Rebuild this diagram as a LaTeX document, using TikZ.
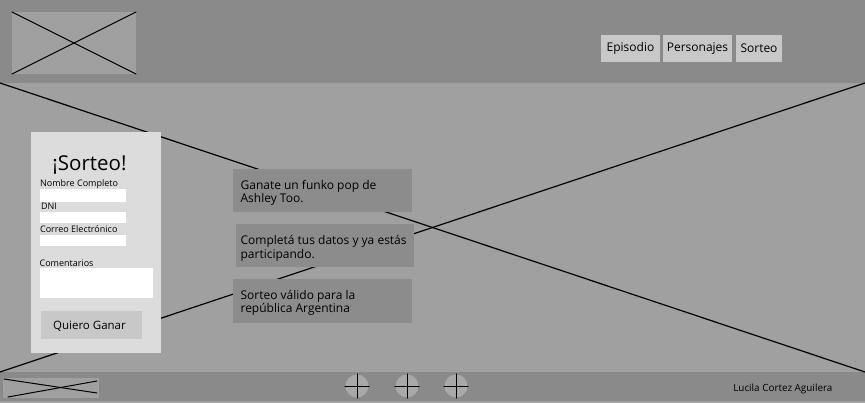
\documentclass[tikz,border=0pt]{standalone}
\usepackage{fontspec}
\setmainfont{Open Sans}

\definecolor{barra}{HTML}{8A8A8A}
\definecolor{fondo}{HTML}{A0A0A0}
\definecolor{panel}{HTML}{DCDCDC}
\definecolor{boton}{HTML}{C8C8C8}
\definecolor{aviso}{HTML}{8C8C8C}
\definecolor{circulo}{HTML}{A8A8A8}

\begin{document}
\begin{tikzpicture}[x=1pt,y=-1pt,line width=1.2pt,line cap=round,
        texto/.style={inner sep=0pt,anchor=base west,align=left,
            font=\fontsize{12}{13.5}\selectfont},
        etiqueta/.style={inner sep=0pt,anchor=base west,
            font=\fontsize{9}{10}\selectfont},
        menu/.style={fill=boton,inner sep=0pt,minimum height=27pt,
            font=\fontsize{12}{14}\selectfont}]

        \useasboundingbox (0,0) rectangle (865,403);

        % Background, header and footer.
        \fill[fondo] (0,0) rectangle (865,403);
        \fill[barra] (0,0) rectangle (865,83);
        \fill[barra] (0,372) rectangle (865,401);

        % Positions of all of the corners.
        \coordinate (a) at (0,83);
        \coordinate (b) at (865,372);
        \coordinate (c) at (0,372);
        \coordinate (d) at (865,83);
        \coordinate (e) at (12,12);
        \coordinate (f) at (136,74);
        \coordinate (g) at (12,74);
        \coordinate (h) at (136,12);
        \coordinate (i) at (4,379);
        \coordinate (j) at (97,393);
        \coordinate (k) at (8,397);
        \coordinate (l) at (97,381);

        % Big cross of the main picture.
        \draw (a) -- (b);
        \draw (c) -- (d);

        % Logo of the header.
        \fill[fondo] (e) rectangle (f);
        \draw[line width=1pt] (e) -- (f);
        \draw[line width=1pt] (g) -- (h);

        % Menu.
        \node[menu, minimum width=59pt] (episodio) at (630.5,48.5) {Episodio};
        \node[menu, minimum width=69pt] (personajes) at (697.5,48.5) {Personajes};
        \node[menu, minimum width=46pt] (sorteo) at (759,48.5) {Sorteo};

        % Form.
        \fill[panel] (31,132) rectangle (161,353);
        \node[inner sep=0pt, anchor=base, font=\fontsize{20.5}{22}\selectfont]
            (titulo) at (89.5,170.7) {¡Sorteo!};
        \node[etiqueta] (nombre) at (39.5,186.5) {Nombre Completo};
        \fill[white] (40,189) rectangle (126,202);
        \node[etiqueta] (dni) at (40.5,209.3) {DNI};
        \fill[white] (40,212) rectangle (126,223);
        \node[etiqueta] (correo) at (39.5,232.7) {Correo Electrónico};
        \fill[white] (40,235) rectangle (126,246);
        \node[etiqueta] (comentarios) at (39,266.7) {Comentarios};
        \fill[white] (40,268) rectangle (153,298);
        \fill[boton] (41,311) rectangle (142,339);
        \node[inner sep=0pt, anchor=base, font=\fontsize{11.5}{13}\selectfont]
            (ganar) at (89.5,329.5) {Quiero Ganar};

        % The three notices.
        \fill[aviso] (233,169) rectangle (412,212);
        \node[texto] (funko) at (240,202.7)
            {Ganate un funko pop de\\Ashley Too.};
        \fill[aviso] (236,224) rectangle (414,267);
        \node[texto] (datos) at (240,258.5)
            {Completá tus datos y ya estás\\participando.};
        \fill[aviso] (233,279) rectangle (412,323);
        \node[texto] (valido) at (240,312.8)
            {Sorteo válido para la\\república Argentina};

        % Logo of the footer.
        \fill[fondo] (3,378) rectangle (99,398);
        \draw[line width=1pt] (i) -- (j);
        \draw[line width=1pt] (k) -- (l);

        % Social buttons.
        \foreach \x [count=\n] in {357,407,456} {
            \node[circle, fill=circulo, inner sep=0pt, minimum size=23pt]
                (red\n) at (\x,386) {};
            \draw[line width=1pt] (red\n.west) -- (red\n.east);
            \draw[line width=1pt] (red\n.north) -- (red\n.south);
        }

        \node[inner sep=0pt, anchor=base east, font=\fontsize{9.9}{11}\selectfont]
            (autora) at (833,391.5) {Lucila Cortez Aguilera};
    \end{tikzpicture}
\end{document}
